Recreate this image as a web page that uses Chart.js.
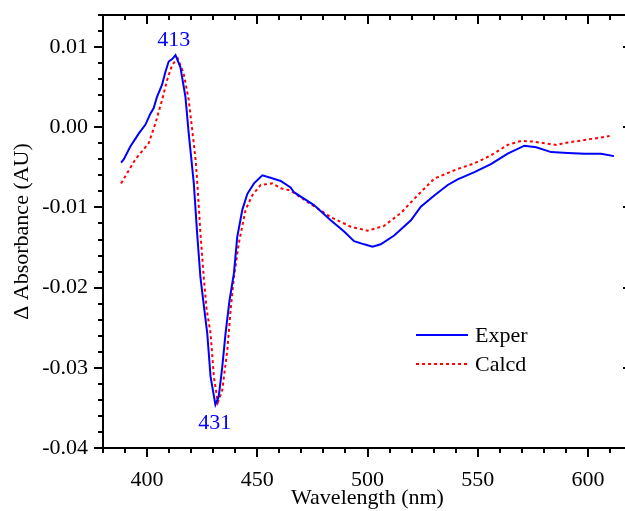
<!DOCTYPE html>
<html>
<head>
<meta charset="UTF-8" />
<title>Difference spectrum</title>
<style type="text/css">
	body { margin: 0; overflow: hidden; background: #fff; }
	.chartBox { width: 632px; height: 511px; }
</style>
</head>
<body>
<div class="chartBox"><canvas id="myChart" width="632" height="511"></canvas></div>
<script src="https://cdn.jsdelivr.net/npm/chart.js@4.4.0/dist/chart.umd.min.js"></script>
<script>
// wavelength (nm) / delta absorbance
var experX = [388.2, 389.4, 392.4, 396.2, 399.2, 401.5, 403.0, 404.5, 406.8, 408.3, 409.8, 411.4, 412.9, 415.1, 417.4, 418.9, 420.1, 421.2, 422.7, 424.2, 426.0, 427.3, 428.8, 431.0, 432.5, 434.1, 435.6, 437.4, 439.4, 440.9, 443.2, 445.5, 448.5, 452.3, 456.0, 460.6, 465.1, 466.6, 475.7, 483.3, 489.4, 493.9, 498.5, 502.3, 506.0, 512.1, 519.7, 524.2, 530.3, 536.4, 540.9, 548.5, 556.0, 563.6, 571.2, 576.5, 583.3, 590.9, 598.5, 606.0, 611.8];
var experY = [-0.0044, -0.0040, -0.0024, -0.0008, 0.0003, 0.0017, 0.0024, 0.0038, 0.0053, 0.0069, 0.0082, 0.0085, 0.0090, 0.0075, 0.0038, -0.0008, -0.0040, -0.0070, -0.0132, -0.0187, -0.0228, -0.0257, -0.0311, -0.0346, -0.0336, -0.0299, -0.0257, -0.0216, -0.0182, -0.0137, -0.0103, -0.0083, -0.0070, -0.0060, -0.0063, -0.0067, -0.0075, -0.0081, -0.0097, -0.0116, -0.0130, -0.0142, -0.0146, -0.0149, -0.0146, -0.0135, -0.0116, -0.0099, -0.0085, -0.0072, -0.0065, -0.0056, -0.0046, -0.0033, -0.0023, -0.0025, -0.0031, -0.0032, -0.0033, -0.0033, -0.0036];

var calcdX = [388.2, 394.7, 400.7, 403.8, 406.8, 409.1, 411.4, 413.9, 416.6, 418.9, 420.5, 422.0, 422.8, 424.2, 425.7, 427.0, 428.8, 430.3, 432.1, 434.1, 436.4, 437.9, 439.4, 441.6, 444.7, 447.7, 451.5, 456.8, 460.6, 465.1, 472.7, 483.3, 492.4, 500.0, 507.5, 515.1, 522.7, 530.3, 540.9, 548.5, 556.0, 563.6, 569.7, 575.7, 580.3, 585.6, 590.9, 598.5, 609.8];
var calcdY = [-0.0070, -0.0040, -0.0020, 0.0005, 0.0034, 0.0059, 0.0078, 0.0086, 0.0067, 0.0034, -0.0004, -0.0040, -0.0070, -0.0132, -0.0187, -0.0227, -0.0257, -0.0311, -0.0343, -0.0328, -0.0278, -0.0228, -0.0187, -0.0145, -0.0103, -0.0085, -0.0072, -0.0070, -0.0076, -0.0079, -0.0093, -0.0112, -0.0124, -0.0129, -0.0123, -0.0107, -0.0085, -0.0064, -0.0052, -0.0045, -0.0035, -0.0022, -0.0017, -0.0018, -0.0020, -0.0022, -0.0019, -0.0016, -0.0011];

var xMajor = [400, 450, 500, 550, 600];
var xMinor = [380, 390, 410, 420, 430, 440, 460, 470, 480, 490, 510, 520, 530, 540, 560, 570, 580, 590, 610, 620];
var yMajor = [-0.04, -0.03, -0.02, -0.01, 0.00, 0.01];
var yMinor = [-0.038, -0.036, -0.034, -0.032, -0.028, -0.026, -0.024, -0.022, -0.018, -0.016, -0.014, -0.012,
	-0.008, -0.006, -0.004, -0.002, 0.002, 0.004, 0.006, 0.008, 0.012, 0.014];

// peak labels (wavelength, value where the text sits)
var peakText = ['413', '431'];
var peakX = [412.1, 430.7];
var peakY = [0.0108, -0.0369];

var FONT = '"Liberation Serif", "Times New Roman", serif';

function pts(xs, ys) {
	var out = [];
	for (var i = 0; i < xs.length; i++) out.push({x: xs[i], y: ys[i]});
	return out;
}

// box, mirrored ticks, peak labels and legend
const framePlugin = {
	id: 'frame',
	afterDatasetsDraw(chart) {
		const ctx = chart.ctx;
		const a = chart.chartArea;
		const xs = chart.scales.x, ys = chart.scales.y;
		ctx.save();
		ctx.strokeStyle = '#000';
		ctx.lineWidth = 2;
		ctx.strokeRect(a.left, a.top, a.right - a.left, a.bottom - a.top);

		function xt(v, len) {
			const px = Math.round(xs.getPixelForValue(v));
			ctx.beginPath();
			ctx.moveTo(px, a.bottom); ctx.lineTo(px, a.bottom + len);   // out
			ctx.moveTo(px, a.top); ctx.lineTo(px, a.top + len);         // in
			ctx.stroke();
		}
		function yt(v, len) {
			const py = Math.round(ys.getPixelForValue(v));
			ctx.beginPath();
			ctx.moveTo(a.left, py); ctx.lineTo(a.left - len, py);       // out
			ctx.moveTo(a.right, py); ctx.lineTo(a.right - len, py);     // in
			ctx.stroke();
		}
		xMajor.forEach(v => xt(v, 9));
		xMinor.forEach(v => xt(v, 5));
		yMajor.forEach(v => yt(v, 9));
		yMinor.forEach(v => yt(v, 5));

		ctx.font = '22px ' + FONT;
		ctx.fillStyle = '#0000ff';
		ctx.textAlign = 'center';
		ctx.textBaseline = 'middle';
		for (let i = 0; i < peakText.length; i++) {
			ctx.fillText(peakText[i], xs.getPixelForValue(peakX[i]), ys.getPixelForValue(peakY[i]));
		}

		// legend
		ctx.textAlign = 'left';
		ctx.fillStyle = '#000';
		chart.data.datasets.forEach((ds, i) => {
			const y = 335 + i * 29;
			ctx.strokeStyle = ds.borderColor;
			ctx.lineWidth = 2;
			ctx.setLineDash(ds.borderDash || []);
			ctx.beginPath();
			ctx.moveTo(416, y); ctx.lineTo(468, y);
			ctx.stroke();
			ctx.setLineDash([]);
			ctx.fillText(ds.label, 475, y + 1);
		});
		ctx.restore();
	}
};

const ctx = document.getElementById('myChart').getContext('2d');

const config = {
	type: 'line',
	data: {
		datasets: [{
			label: 'Exper',
			borderColor: '#0000ff',
			borderWidth: 2,
			pointRadius: 0,
			tension: 0,
			data: pts(experX, experY)
		},
		{
			label: 'Calcd',
			borderColor: '#ff0000',
			borderWidth: 2,
			borderDash: [3, 3],
			pointRadius: 0,
			tension: 0,
			data: pts(calcdX, calcdY)
		}]
	},
	plugins: [framePlugin],
	options: {
		responsive: false,
		animation: false,
		layout: { padding: { top: 15, left: 0, right: 0, bottom: 0 } },
		plugins: {
			legend: { display: false },
			tooltip: { enabled: false }
		},
		scales: {
			x: {
				type: 'linear',
				min: 380,
				max: 620,
				afterBuildTicks: s => { s.ticks = xMajor.map(v => ({value: v})); },
				afterFit: s => { s.height = 63; s.paddingLeft = 0; s.paddingRight = 0; },
				grid: { display: false, drawTicks: false },
				border: { display: false },
				ticks: {
					color: '#000',
					font: { family: FONT, size: 22 },
					padding: 19,
					maxRotation: 0,
					autoSkip: false,
					callback: v => String(v)
				},
				title: {
					display: true,
					text: 'Wavelength (nm)',
					color: '#000',
					font: { family: FONT, size: 22 },
					padding: { top: 0, bottom: 0 }
				}
			},
			y: {
				type: 'linear',
				min: -0.04,
				max: 0.014,
				afterBuildTicks: s => { s.ticks = yMajor.map(v => ({value: v})); },
				afterFit: s => { s.width = 103; s.paddingTop = 0; s.paddingBottom = 0; },
				grid: { display: false, drawTicks: false },
				border: { display: false },
				ticks: {
					color: '#000',
					font: { family: FONT, size: 22 },
					padding: 15,
					callback: v => v.toFixed(2)
				},
				title: {
					display: true,
					text: 'Δ Absorbance (AU)',
					color: '#000',
					font: { family: FONT, size: 22 },
					padding: { top: 9, bottom: 0 }
				}
			}
		}
	}
};

const myChart = new Chart(ctx, config);
</script>
</body>
</html>
